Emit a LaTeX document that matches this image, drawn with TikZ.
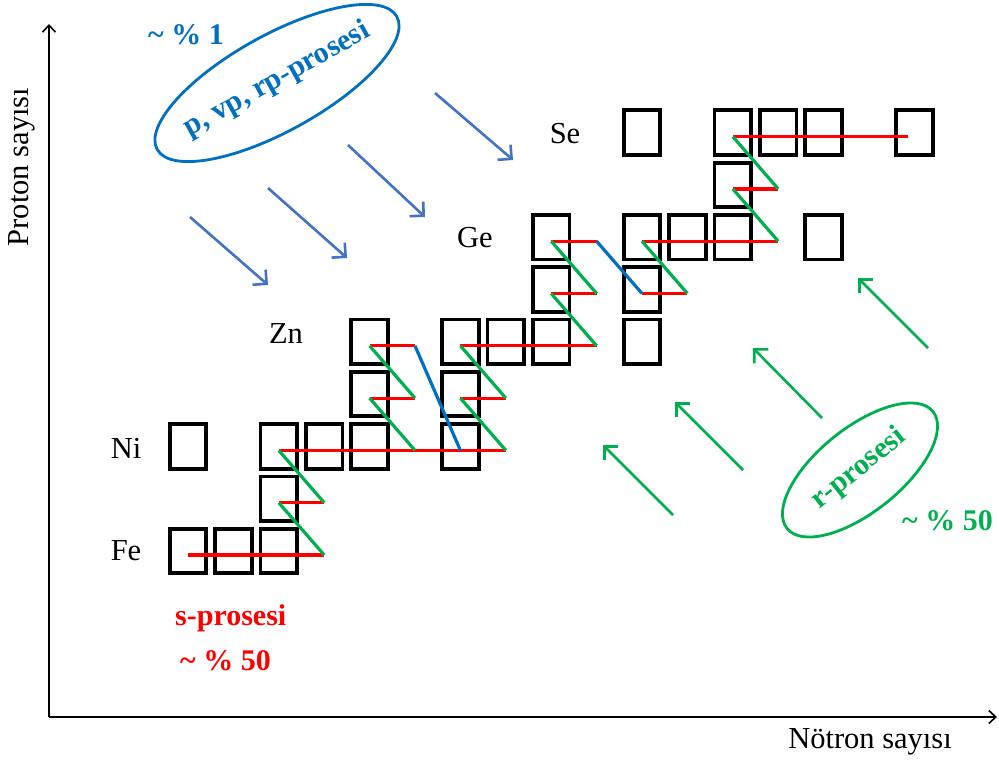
\documentclass[tikz,border=0pt]{standalone}
\usepackage{fontspec}
\setmainfont{Liberation Serif}
\usetikzlibrary{arrows.meta,shapes.geometric}
\definecolor{sred}{RGB}{255,0,0}
\definecolor{pblue}{RGB}{0,112,192}
\definecolor{ablue}{RGB}{68,114,196}
\definecolor{rgreen}{RGB}{0,176,80}
\begin{document}
\begin{tikzpicture}[x=1pt,y=-1pt,
  nuc/.style={draw=black, line width=3.8pt, minimum width=36.5pt, minimum height=44.5pt, inner sep=0pt},
  lbl/.style={font=\fontsize{30.5}{36}\selectfont, anchor=base, inner sep=0pt},
  bl/.style={font=\fontsize{30}{36}\selectfont\bfseries, inner sep=0pt},
  sline/.style={sred, line width=3.2pt},
  gline/.style={rgreen, line width=3.2pt},
  bline/.style={pblue, line width=3.2pt},
  parrow/.style={ablue, line width=2.6pt, -{Straight Barb[length=10pt,width=20pt]}},
  rarrow/.style={rgreen, line width=2.6pt, -{Straight Barb[length=10pt,width=20pt]}},
  axis/.style={black, line width=1.6pt, -{Straight Barb[length=7pt,width=13pt]}}
]
\useasboundingbox (0,0) rectangle (999,760);
\fill[white] (0,0) rectangle (999,760);

% lattice points
\foreach \i in {0,...,16}{
  \foreach \r in {0,...,8}{
    \coordinate (p-\i-\r) at ({188+45.4*\i},{555-52.3*\r});
  }
}

% axes
\coordinate (O) at (49,717);
\coordinate (ytop) at (49,24);
\coordinate (xend) at (997,717);
\draw[axis] (O) -- (ytop);
\draw[axis] (O) -- (xend);
\node[lbl, rotate=90, anchor=center] (ylab) at (22,167) {Proton sayısı};
\node[lbl] (xlab) at (870,748) {Nötron sayısı};

% nuclide boxes
\foreach \i/\r in {0/0,1/0,2/0,2/1,0/2,2/2,3/2,4/2,6/2,4/3,6/3,4/4,6/4,7/4,8/4,10/4,8/5,10/5,8/6,10/6,11/6,12/6,14/6,12/7,10/8,12/8,13/8,14/8,16/8}
  \node[nuc] (n-\i-\r) at ({188+45.4*\i},{551-52.3*\r}) {};

% element labels
\node[lbl] (se) at (565,143) {Se};
\node[lbl] (ge) at (475,247) {Ge};
\node[lbl] (zn) at (286,343) {Zn};
\node[lbl] (ni) at (126,458) {Ni};
\node[lbl] (fe) at (126,560) {Fe};

% s-process (red)
\foreach \a/\b/\r in {0/3/0,2/3/1,2/7/2,4/5/3,6/7/3,4/5/4,6/9/4,8/9/5,10/11/5,8/9/6,10/13/6,12/13/7}
  \draw[sline] (p-\a-\r) -- (p-\b-\r);
\draw[sline] (p-12-8) -- ([xshift=-6pt]p-16-8);

% beta decays (green)
\foreach \a/\r/\c/\s in {3/0/2/1,3/1/2/2,5/2/4/3,5/3/4/4,7/2/6/3,7/3/6/4,9/4/8/5,9/5/8/6,11/5/10/6,13/6/12/7,13/7/12/8}
  \draw[gline] (p-\a-\r) -- (p-\c-\s);

% blue
\draw[bline] (p-5-4) -- (p-6-2);
\draw[bline] (p-9-6) -- (p-10-5);

% p-process arrows
\coordinate (pa1s) at (190,217); \coordinate (pa1e) at (268,285);
\coordinate (pa2s) at (268,188); \coordinate (pa2e) at (347,258);
\coordinate (pa3s) at (348,145); \coordinate (pa3e) at (425,217);
\coordinate (pa4s) at (435,93);  \coordinate (pa4e) at (513,160);
\draw[parrow] (pa1s) -- (pa1e);
\draw[parrow] (pa2s) -- (pa2e);
\draw[parrow] (pa3s) -- (pa3e);
\draw[parrow] (pa4s) -- (pa4e);

% r-process arrows
\coordinate (ra1s) at (673,515); \coordinate (ra1e) at (603,445);
\coordinate (ra2s) at (743,470); \coordinate (ra2e) at (675,402);
\coordinate (ra3s) at (822,418); \coordinate (ra3e) at (753,348);
\coordinate (ra4s) at (928,348); \coordinate (ra4e) at (858,278);
\draw[rarrow] (ra1s) -- (ra1e);
\draw[rarrow] (ra2s) -- (ra2e);
\draw[rarrow] (ra3s) -- (ra3e);
\draw[rarrow] (ra4s) -- (ra4e);

% ellipses
\node[draw=pblue, line width=2.8pt, ellipse, rotate=29, minimum width=274pt, minimum height=96pt, inner sep=0pt] (pell) at (277,83) {};
\node[draw=rgreen, line width=2.8pt, ellipse, rotate=38.7, minimum width=187pt, minimum height=84pt, inner sep=0pt] (rell) at (860,470) {};
\node[bl, text=pblue, rotate=29] (ptext) at (277,80) {p, vp, rp-prosesi};
\node[bl, text=rgreen, rotate=38.7] (rtext) at (859,469) {r-prosesi};

% percentages and labels
\node[bl, text=pblue, anchor=base west] (pperc) at (148,45) {\textasciitilde\ \% 1};
\node[bl, text=sred, anchor=base west] (stext) at (175,625) {s-prosesi};
\node[bl, text=sred, anchor=base west] (sperc) at (180,670) {\textasciitilde\ \% 50};
\node[bl, text=rgreen, anchor=base west] (rperc) at (902,530) {\textasciitilde\ \% 50};
\end{tikzpicture}
\end{document}
